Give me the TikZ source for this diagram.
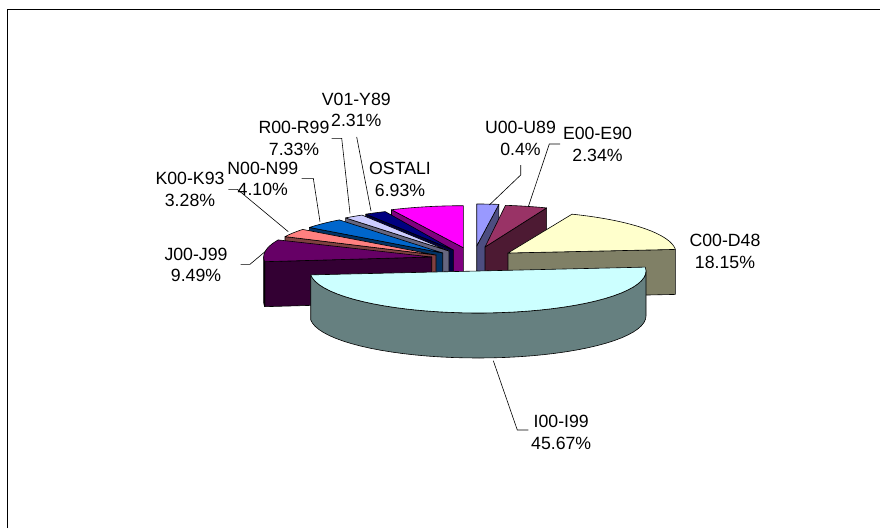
\documentclass[tikz,border=0pt]{standalone}
\usepackage{fontspec}
\setmainfont{Liberation Sans}
\definecolor{uTop}{HTML}{9999FF}\definecolor{uSide}{HTML}{4D4D80}
\definecolor{eTop}{HTML}{993366}\definecolor{eSide}{HTML}{4D1A33}
\definecolor{cTop}{HTML}{FFFFCC}\definecolor{cSide}{HTML}{808066}
\definecolor{iTop}{HTML}{CCFFFF}\definecolor{iSide}{HTML}{668080}
\definecolor{jTop}{HTML}{660066}\definecolor{jSide}{HTML}{330033}
\definecolor{kTop}{HTML}{FF8080}\definecolor{kSide}{HTML}{804040}
\definecolor{nTop}{HTML}{0066CC}\definecolor{nSide}{HTML}{003366}
\definecolor{rTop}{HTML}{CCCCFF}\definecolor{rSide}{HTML}{666680}
\definecolor{vTop}{HTML}{000080}\definecolor{vSide}{HTML}{000040}
\definecolor{oTop}{HTML}{FF00FF}\definecolor{oSide}{HTML}{800080}
\def\RA{168}\def\RB{42}\def\DP{45}
% top face: apex x, apex y, t1, t2, colour
\newcommand\topface[5]{\filldraw[face, fill=#5] (#1,#2) -- plot[domain=#3:#4, samples=40] ({#1+\RA*cos(\x)},{#2+\RB*sin(\x)}) -- cycle;}
% radial face: apex x, apex y, t, colour
\newcommand\radface[4]{\filldraw[face, fill=#4] (#1,#2) -- ({#1+\RA*cos(#3)},{#2+\RB*sin(#3)}) -- ++(0,\DP) -- (#1,{#2+\DP}) -- cycle;}
% outer side: apex x, apex y, t1, t2, colour
\newcommand\outside[5]{\filldraw[face, fill=#5] plot[domain=#3:#4, samples=40] ({#1+\RA*cos(\x)},{#2+\RB*sin(\x)}) -- plot[domain=#4:#3, samples=40] ({#1+\RA*cos(\x)},{#2+\DP+\RB*sin(\x)}) -- cycle;}
\begin{document}
\begin{tikzpicture}[x=1pt,y=-1pt,
  face/.style={draw=black, line width=0.6pt, line join=round},
  lead/.style={draw=black, line width=0.6pt},
  lab/.style={font=\fontsize{17.7}{21.8}\selectfont, align=center, anchor=base, inner sep=0pt}]
\useasboundingbox (0,0) rectangle (880,528);
\fill[white] (0,0) rectangle (880,528);
\draw[line width=1.3pt] (7.3,528) -- (7.3,9.3) -- (880,9.3);
% left group, back to front
\radface{463.3}{247.7}{244.7}{oSide}
\topface{463.3}{247.7}{244.7}{270}{oTop}
\radface{453.3}{250}{238.6}{vSide}
\topface{453.3}{250}{238.6}{246.1}{vTop}
\radface{449}{251}{232}{rSide}
\topface{449}{251}{232}{238.8}{rTop}
\radface{442.7}{253}{217.5}{nSide}
\topface{442.7}{253}{217.5}{232}{nTop}
\radface{436}{255}{206}{kSide}
\topface{436}{255}{206}{217.5}{kTop}
\radface{431.7}{257}{173.6}{jSide}
\outside{431.7}{257}{173.6}{180}{jSide}
\topface{431.7}{257}{173.6}{204}{jTop}
% right group
\radface{476.7}{246}{-82.4}{uSide}
\topface{476.7}{246}{-90}{-82.4}{uTop}
\radface{485}{247}{-68.5}{eSide}
\topface{485}{247}{-83}{-68.5}{eTop}
\radface{508}{253}{-4.9}{cSide}
\topface{508}{253}{-67.6}{-4.9}{cTop}
% front slice
\outside{478}{271}{0}{174.7}{iSide}
\topface{478}{271}{-5.3}{174.7}{iTop}
% labels (anchor = baseline of the last line)
\node[lab] (vlab) at (356.3,126.8) {V01-Y89\\2.31\%};
\node[lab] (rlab) at (294,155.1) {R00-R99\\7.33\%};
\node[lab] (olab) at (400,196.1) {OSTALI\\6.93\%};
\node[lab] (nlab) at (262.8,195.8) {N00-N99\\4.10\%};
\node[lab] (klab) at (190,206.1) {K00-K93\\3.28\%};
\node[lab] (jlab) at (196,281.8) {J00-J99\\9.49\%};
\node[lab] (ulab) at (520.5,155.1) {U00-U89\\0.4\%};
\node[lab] (elab) at (597.5,161.1) {E00-E90\\2.34\%};
\node[lab] (clab) at (725,268.5) {C00-D48\\18.15\%};
\node[lab] (ilab) at (561.2,449.1) {I00-I99\\45.67\%};
% leader lines
\coordinate (v1) at (356.7,137); \coordinate (v2) at (371,211);
\coordinate (r1) at (331.7,138.3); \coordinate (r2) at (341.7,138.3); \coordinate (r3) at (350,213.3);
\coordinate (n1) at (301.7,178.3); \coordinate (n2) at (313.3,178.3); \coordinate (n3) at (320,221.7);
\coordinate (k1) at (228.3,189.3); \coordinate (k2) at (237.3,189.3); \coordinate (k3) at (288.3,231.7);
\coordinate (j1) at (240.7,264.3); \coordinate (j2) at (250,264.3); \coordinate (j3) at (265,251.7);
\coordinate (u1) at (520.7,165); \coordinate (u2) at (520.7,175); \coordinate (u3) at (489.3,205);
\coordinate (e1) at (560,144); \coordinate (e2) at (549.3,144); \coordinate (e3) at (528.3,206.7);
\coordinate (i1) at (493.3,360.7); \coordinate (i2) at (517.3,430); \coordinate (i3) at (528.3,430);
\draw[lead] (v1) -- (v2);
\draw[lead] (r1) -- (r2) -- (r3);
\draw[lead] (n1) -- (n2) -- (n3);
\draw[lead] (k1) -- (k2) -- (k3);
\draw[lead] (j1) -- (j2) -- (j3);
\draw[lead] (u1) -- (u2) -- (u3);
\draw[lead] (e1) -- (e2) -- (e3);
\draw[lead] (i1) -- (i2) -- (i3);
\end{tikzpicture}
\end{document}
